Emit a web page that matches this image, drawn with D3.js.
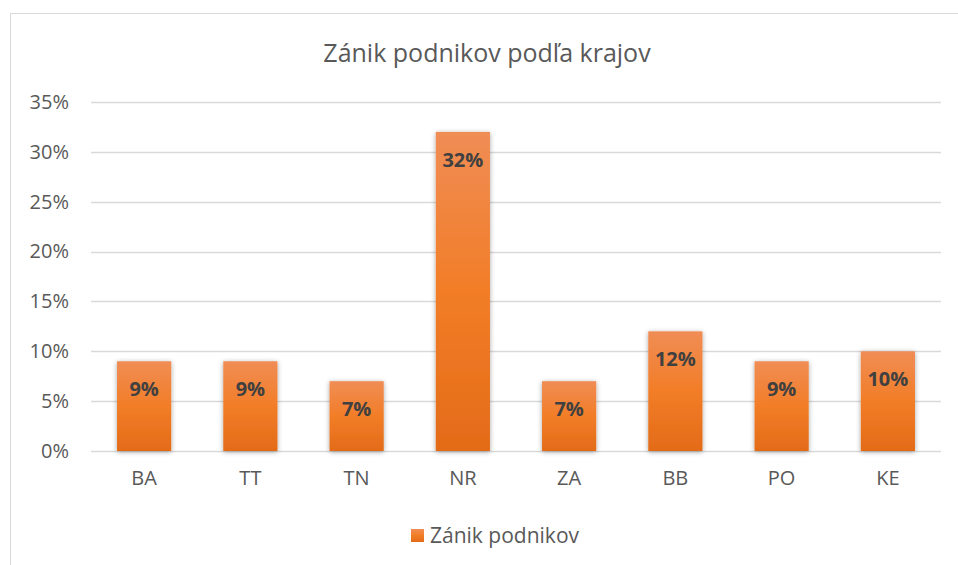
<!DOCTYPE html>
<html>
<head>
<meta charset="utf-8">
<script src="https://cdn.jsdelivr.net/npm/d3@7"></script>
<style>
  body { margin: 0; background: #fff; }
  svg { display: block; font-family: "Open Sans", sans-serif; }
</style>
</head>
<body>
<div class="container"></div>
<script>
// data
var regions = ['BA', 'TT', 'TN', 'NR', 'ZA', 'BB', 'PO', 'KE'];
var shares = [9, 9, 7, 32, 7, 12, 9, 10];
var yTicks = [0, 5, 10, 15, 20, 25, 30, 35];
var seriesName = 'Zánik podnikov';
var title = 'Zánik podnikov podľa krajov';

var width = 958, height = 565;
var plot = { left: 91, right: 941, top: 102, bottom: 451 };

var svg = d3.select('.container').append('svg')
  .attr('width', width)
  .attr('height', height);

var defs = svg.append('defs');
var grad = defs.append('linearGradient')
  .attr('id', 'barFill')
  .attr('x1', 0).attr('y1', 0).attr('x2', 0).attr('y2', 1);
grad.append('stop').attr('offset', '0%').attr('stop-color', '#f08d55');
grad.append('stop').attr('offset', '50%').attr('stop-color', '#f27d27');
grad.append('stop').attr('offset', '100%').attr('stop-color', '#e36b18');

var shadow = defs.append('filter')
  .attr('id', 'shadow')
  .attr('x', '-30%').attr('y', '-10%').attr('width', '160%').attr('height', '125%');
shadow.append('feDropShadow')
  .attr('dx', 0).attr('dy', 1)
  .attr('stdDeviation', 2.5)
  .attr('flood-color', '#000')
  .attr('flood-opacity', 0.35);

// chart frame
svg.append('rect')
  .attr('x', 10.5).attr('y', 13.5)
  .attr('width', 980).attr('height', 600)
  .attr('fill', 'none')
  .attr('stroke', '#d9d9d9');

svg.append('text')
  .attr('x', 487).attr('y', 62)
  .attr('text-anchor', 'middle')
  .attr('font-size', 25)
  .attr('fill', '#595959')
  .text(title);

var x = d3.scaleBand()
  .domain(regions)
  .range([plot.left, plot.right])
  .paddingInner(0.49)
  .paddingOuter(0.245);

var y = d3.scaleLinear()
  .domain([0, 35])
  .range([plot.bottom, plot.top]);

// gridlines
svg.append('g')
  .selectAll('line')
  .data(yTicks)
  .enter().append('line')
  .attr('x1', plot.left).attr('x2', plot.right)
  .attr('y1', function(d) { return Math.round(y(d)) + 0.5; })
  .attr('y2', function(d) { return Math.round(y(d)) + 0.5; })
  .attr('stroke', '#d9d9d9')
  .attr('stroke-width', 1.3);

// y axis labels
var yAxis = svg.append('g')
  .attr('transform', 'translate(' + (plot.left - 22) + ',0)')
  .call(d3.axisLeft(y).tickValues(yTicks).tickSize(0).tickPadding(0)
    .tickFormat(function(d) { return d + '%'; }));
yAxis.select('.domain').remove();
yAxis.selectAll('text')
  .attr('font-family', '"Open Sans", sans-serif')
  .attr('font-size', 20)
  .attr('fill', '#595959');

// x axis labels
var xAxis = svg.append('g')
  .attr('transform', 'translate(0,' + (plot.bottom + 20) + ')')
  .call(d3.axisBottom(x).tickSize(0).tickPadding(0));
xAxis.select('.domain').remove();
xAxis.selectAll('text')
  .attr('font-family', '"Open Sans", sans-serif')
  .attr('font-size', 20)
  .attr('fill', '#595959');

// bars
svg.append('g')
  .selectAll('rect')
  .data(shares)
  .enter().append('rect')
  .attr('x', function(d, i) { return x(regions[i]); })
  .attr('y', function(d) { return y(d); })
  .attr('width', x.bandwidth())
  .attr('height', function(d) { return plot.bottom - y(d); })
  .attr('fill', 'url(#barFill)')
  .attr('filter', 'url(#shadow)');

// value labels
svg.append('g')
  .selectAll('text')
  .data(shares)
  .enter().append('text')
  .attr('x', function(d, i) { return x(regions[i]) + x.bandwidth() / 2; })
  .attr('y', function(d) { return y(d) + 35; })
  .attr('text-anchor', 'middle')
  .attr('font-size', 20)
  .attr('font-weight', 'bold')
  .attr('fill', '#404040')
  .text(function(d) { return d + '%'; });

// legend
var legend = svg.append('g');
legend.append('rect')
  .attr('x', 411).attr('y', 529)
  .attr('width', 13).attr('height', 13)
  .attr('fill', 'url(#barFill)');
legend.append('text')
  .attr('x', 430).attr('y', 543)
  .attr('font-size', 21)
  .attr('fill', '#595959')
  .text(seriesName);
</script>
</body>
</html>
